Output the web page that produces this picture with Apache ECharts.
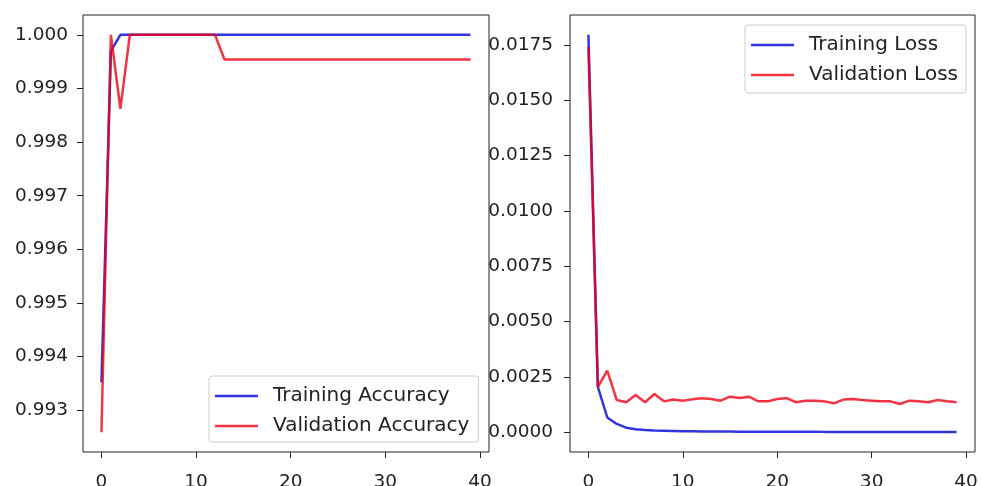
<!DOCTYPE html>
<html>
<head>
<meta charset="utf-8">
<script src="https://cdn.jsdelivr.net/npm/echarts@6/dist/echarts.min.js"></script>
<style>html,body{margin:0;padding:0;background:#fff;}#c{width:981px;height:486px;}</style>
</head>
<body>
<div id="c"></div>
<script>
const epochs = [0,1,2,3,4,5,6,7,8,9,10,11,12,13,14,15,16,17,18,19,20,21,22,23,24,25,26,27,28,29,30,31,32,33,34,35,36,37,38,39];
const trainAcc = [0.99352,0.99970,1.0,1.0,1.0,1.0,1.0,1.0,1.0,1.0,1.0,1.0,1.0,1.0,1.0,1.0,1.0,1.0,1.0,1.0,1.0,1.0,1.0,1.0,1.0,1.0,1.0,1.0,1.0,1.0,1.0,1.0,1.0,1.0,1.0,1.0,1.0,1.0,1.0,1.0];
const valAcc = [0.99259,1.0,0.99862,1.0,1.0,1.0,1.0,1.0,1.0,1.0,1.0,1.0,1.0,0.99954,0.99954,0.99954,0.99954,0.99954,0.99954,0.99954,0.99954,0.99954,0.99954,0.99954,0.99954,0.99954,0.99954,0.99954,0.99954,0.99954,0.99954,0.99954,0.99954,0.99954,0.99954,0.99954,0.99954,0.99954,0.99954,0.99954];
const trainLoss = [0.01797,0.00205,0.00066,0.00037,0.00020,0.00013,0.00009,0.00007,0.00006,0.00005,0.00004,0.00004,0.00003,0.00003,0.00003,0.00003,0.00002,0.00002,0.00002,0.00002,0.00002,0.00002,0.00002,0.00002,0.00002,0.00001,0.00001,0.00001,0.00001,0.00001,0.00001,0.00001,0.00001,0.00001,0.00001,0.00001,0.00001,0.00001,0.00001,0.00001];
const valLoss = [0.01741,0.00205,0.00278,0.00145,0.00135,0.00168,0.00135,0.00172,0.00139,0.00147,0.00142,0.00148,0.00153,0.00150,0.00142,0.00160,0.00154,0.00160,0.00139,0.00139,0.00150,0.00154,0.00135,0.00142,0.00142,0.00139,0.00130,0.00147,0.00150,0.00145,0.00142,0.00139,0.00139,0.00127,0.00142,0.00139,0.00135,0.00145,0.00139,0.00135];
const xTicks = [0,10,20,30,40];
const accTicks = [0.993,0.994,0.995,0.996,0.997,0.998,0.999,1.000];
const lossTicks = [0.0000,0.0025,0.0050,0.0075,0.0100,0.0125,0.0150,0.0175];

const pairs = (ys) => epochs.map((e,i)=>[e, ys[i]]);
const FONT = 'DejaVu Sans';
const TXT = '#222';
const TICKFS = 18.5;
const LEGFS = 20;
function xAxis(gi){
  return {
    type:'value', gridIndex:gi, min:-1.95, max:40.95,
    splitLine:{show:false},
    axisLine:{show:false, onZero:false},
    axisTick:{show:true, length:6, lineStyle:{color:TXT,width:1}, customValues:xTicks},
    axisLabel:{customValues:xTicks, fontFamily:FONT, fontSize:TICKFS, color:TXT, margin:21, formatter:v=>String(v)}
  };
}
function yAxis(gi, min, max, ticks, dec, margin){
  return {
    type:'value', gridIndex:gi, min:min, max:max,
    splitLine:{show:false},
    axisLine:{show:false, onZero:false},
    axisTick:{show:true, length:6, lineStyle:{color:TXT,width:1}, customValues:ticks},
    axisLabel:{customValues:ticks, fontFamily:FONT, fontSize:TICKFS, color:TXT, margin:margin, formatter:v=>v.toFixed(dec)}
  };
}
const BLUE = 'rgba(0,0,220,0.8)';
const RED = 'rgba(240,0,20,0.8)';
function line(name, xi, data, color){
  return {name:name, type:'line', xAxisIndex:xi, yAxisIndex:xi, data:data, symbol:'none',
    lineStyle:{color:color, width:2.5}, itemStyle:{color:color}};
}
const legendCommon = {
  orient:'vertical', icon:'rect', itemWidth:43, itemHeight:2.5, itemGap:10,
  backgroundColor:'#fff', borderColor:'#ccc', borderWidth:1, borderRadius:3,
  textStyle:{fontFamily:FONT, fontSize:LEGFS, color:TXT, lineHeight:20, padding:[0,0,0,10]},
  selectedMode:false
};
const chart = echarts.init(document.getElementById('c'), null, {renderer:'canvas'});
chart.setOption({
  animation:false,
  backgroundColor:'#fff',
  grid:[
    {left:83, top:15, width:406, height:437, show:true, borderColor:TXT, borderWidth:1, backgroundColor:'transparent', containLabel:false, outerBoundsMode:'none'},
    {left:570, top:15, width:405, height:437, show:true, borderColor:TXT, borderWidth:1, backgroundColor:'transparent', containLabel:false, outerBoundsMode:'none'}
  ],
  xAxis:[xAxis(0), xAxis(1)],
  yAxis:[yAxis(0, 0.99222, 1.00037, accTicks, 3, 15), yAxis(1, -0.0009, 0.01886, lossTicks, 4, 17)],
  legend:[
    Object.assign({}, legendCommon, {left:209, top:376, padding:[10,9,6,6], data:['Training Accuracy','Validation Accuracy']}),
    Object.assign({}, legendCommon, {left:745, top:25, padding:[10,8,8,6], data:['Training Loss','Validation Loss']})
  ],
  series:[
    line('Training Accuracy', 0, pairs(trainAcc), BLUE),
    line('Validation Accuracy', 0, pairs(valAcc), RED),
    line('Training Loss', 1, pairs(trainLoss), BLUE),
    line('Validation Loss', 1, pairs(valLoss), RED)
  ]
});
</script>
</body>
</html>
